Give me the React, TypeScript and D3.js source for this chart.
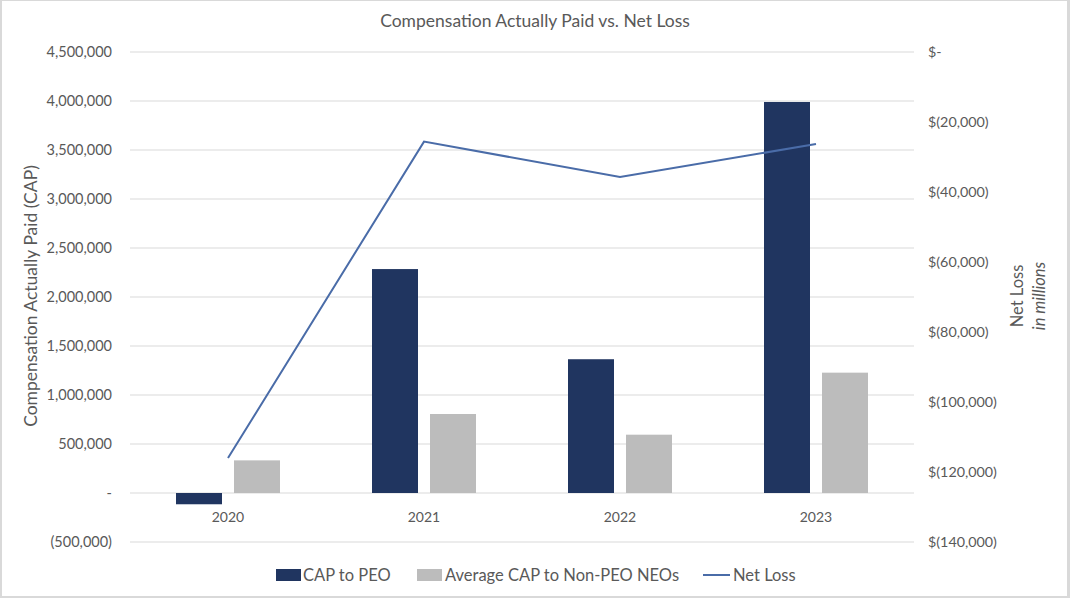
import React from "react";
import * as d3 from "d3";

const years = ["2020", "2021", "2022", "2023"];
const capToPeo = [-115000, 2285000, 1365000, 3990000];
const avgCapNonPeo = [333000, 806000, 595000, 1228000];
const netLoss = [-116000, -25600, -35700, -26300];
const leftTicks = [-500000, 0, 500000, 1000000, 1500000, 2000000, 2500000, 3000000, 3500000, 4000000, 4500000];
const rightTicks = [0, -20000, -40000, -60000, -80000, -100000, -120000, -140000];

const W = 1070;
const H = 598;
const FONT = "Lato, 'Open Sans', sans-serif";
const TXT = "#595959";

export default function App() {
  const x = d3.scaleBand<string>().domain(years).range([130, 914]);
  const yL = d3.scaleLinear().domain([-500000, 4500000]).range([542, 52]);
  const yR = d3.scaleLinear().domain([-140000, 0]).range([542, 52]);
  const fmt = d3.format(",");
  const leftLabel = (v: number) => (v === 0 ? "-" : v < 0 ? `(${fmt(-v)})` : fmt(v));
  const rightLabel = (v: number) => (v === 0 ? "$-" : `$(${fmt(Math.abs(v))})`);
  const cx = (c: string) => (x(c) as number) + x.bandwidth() / 2;
  const barW = 46;
  const gap = 6;
  const line = d3
    .line<number>()
    .x((_, i) => cx(years[i]))
    .y((d) => yR(d));

  return (
    <svg
      width={W}
      height={H}
      style={{ position: "absolute", left: 0, top: 0 }}
      fontFamily={FONT}
    >
      <rect x={0} y={0} width={W} height={H} fill="#d9d9d9" />
      <rect x={2} y={1} width={1065} height={595} fill="#ffffff" />
      <text x={535} y={27} textAnchor="middle" fontSize={17.5} fill={TXT}>
        Compensation Actually Paid vs. Net Loss
      </text>
      {leftTicks.map((t) => (
        <g key={"g" + t}>
          <line x1={130} x2={914} y1={yL(t)} y2={yL(t)} stroke="#d9d9d9" strokeWidth={1.2} />
          <text x={112} y={yL(t)} dy="0.35em" textAnchor="end" fontSize={14.5} fill={TXT}>
            {leftLabel(t)}
          </text>
        </g>
      ))}
      {rightTicks.map((t) => (
        <text key={"r" + t} x={928} y={yR(t)} dy="0.35em" textAnchor="start" fontSize={14.3} fill={TXT}>
          {rightLabel(t)}
        </text>
      ))}
      {years.map((c, i) => (
        <g key={c}>
          <rect
            x={cx(c) - gap - barW}
            y={Math.min(yL(capToPeo[i]), yL(0))}
            width={barW}
            height={Math.abs(yL(capToPeo[i]) - yL(0))}
            fill="#203560"
          />
          <rect
            x={cx(c) + gap}
            y={Math.min(yL(avgCapNonPeo[i]), yL(0))}
            width={barW}
            height={Math.abs(yL(avgCapNonPeo[i]) - yL(0))}
            fill="#bcbcbc"
          />
          <text x={cx(c)} y={517} dy="0.35em" textAnchor="middle" fontSize={14} fill={TXT}>
            {c}
          </text>
        </g>
      ))}
      <path d={line(netLoss) || ""} fill="none" stroke="#4a6ca8" strokeWidth={2} />
      <text
        transform={`translate(37,296) rotate(-90)`}
        textAnchor="middle"
        fontSize={17.5}
        fill={TXT}
      >
        Compensation Actually Paid (CAP)
      </text>
      <g transform="translate(1017,296) rotate(-90)">
        <text x={0} y={0} dy="0.35em" textAnchor="middle" fontSize={16.5} fill={TXT}>
          Net Loss
        </text>
        <text x={0} y={22} dy="0.35em" textAnchor="middle" fontSize={16.5} fontStyle="italic" fill={TXT}>
          in millions
        </text>
      </g>
      <g fontSize={16.5} fill={TXT}>
        <rect x={276} y={569} width={25} height={12} fill="#203560" />
        <text x={303} y={575} dy="0.35em">CAP to PEO</text>
        <rect x={417} y={569} width={25} height={12} fill="#bcbcbc" />
        <text x={445} y={575} dy="0.35em">Average CAP to Non-PEO NEOs</text>
        <line x1={703} x2={730} y1={575} y2={575} stroke="#4a6ca8" strokeWidth={2} />
        <text x={733} y={575} dy="0.35em">Net Loss</text>
      </g>
    </svg>
  );
}
